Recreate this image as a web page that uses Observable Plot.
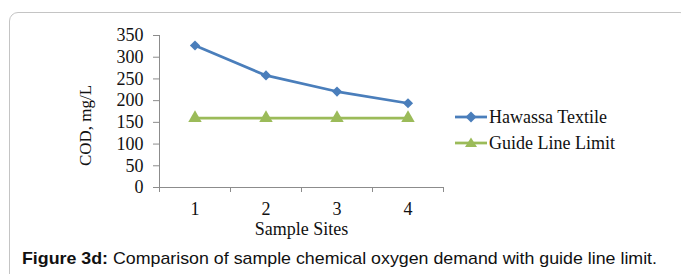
<!DOCTYPE html>
<html><head><meta charset="utf-8">
<script src="https://cdn.jsdelivr.net/npm/d3@7"></script>
<script src="https://cdn.jsdelivr.net/npm/@observablehq/plot@0.6"></script>
<style>
html,body{margin:0;padding:0;background:#fff;}
#wrap{position:relative;width:681px;height:274px;overflow:hidden;background:#fff;}
#frame{position:absolute;left:9px;top:12px;width:680px;height:320px;border:1px solid #c4c4c4;border-radius:9px;box-sizing:border-box;}
#chart{position:absolute;left:0;top:0;}
#legend{position:absolute;left:455px;top:104px;font-family:"Liberation Serif",serif;font-size:18px;color:#111;}
.item{display:flex;align-items:center;height:26px;white-space:nowrap;}
.item svg{display:block;margin-right:1px;}
#caption{position:absolute;left:22px;top:249px;font-family:"Liberation Sans",Arial,sans-serif;font-size:17px;line-height:19px;white-space:nowrap;transform-origin:left top;color:#111;}
#caption b{font-weight:bold;}
</style>
</head><body>
<div id="wrap">
  <div id="frame"></div>
  <div id="chart"></div>
  <div id="legend"></div>
  <div id="caption"><b>Figure 3d:</b> Comparison of sample chemical oxygen demand with guide line limit.</div>
</div>
<script>
// ---- data ----
const sites = [1, 2, 3, 4];
const hawassaTextile = [327, 258, 221, 194];
const guideLineLimit = [160, 160, 160, 160];
const seriesNames = ["Hawassa Textile", "Guide Line Limit"];
const seriesColors = ["#4A7EBB", "#9BBB59"];
const yTicks = [0, 50, 100, 150, 200, 250, 300, 350];
const xCategoryBounds = [0.5, 1.5, 2.5, 3.5, 4.5];
const yTitle = "COD, mg/L";
const xTitle = "Sample Sites";

const rows = [];
sites.forEach((s, i) => {
  rows.push({site: s, value: hawassaTextile[i], series: seriesNames[0]});
  rows.push({site: s, value: guideLineLimit[i], series: seriesNames[1]});
});
const axisGray = "#8c8c8c";

const chart = Plot.plot({
  width: 681,
  height: 240,
  marginTop: 35,
  marginBottom: 53,
  marginLeft: 159,
  marginRight: 238,
  style: {fontFamily: "'Liberation Serif', serif", fontSize: "18px", color: "#111", background: "transparent", overflow: "visible"},
  x: {domain: [xCategoryBounds[0], xCategoryBounds[xCategoryBounds.length - 1]]},
  y: {domain: [yTicks[0], yTicks[yTicks.length - 1]]},
  color: {domain: seriesNames, range: seriesColors},
  marks: [
    Plot.ruleX([xCategoryBounds[0]], {y1: yTicks[0], y2: yTicks[yTicks.length - 1], stroke: axisGray}),
    Plot.ruleY([0], {x1: xCategoryBounds[0], x2: xCategoryBounds[xCategoryBounds.length - 1], stroke: axisGray}),
    Plot.axisY({ticks: yTicks, tickSize: 6, tickPadding: 10, stroke: axisGray, fill: "#111", label: null}),
    Plot.text([yTitle], {frameAnchor: "left", textAnchor: "middle", lineAnchor: "middle", dx: -74, dy: 14, rotate: -90, fontSize: 17, fill: "#111"}),
    Plot.axisX({ticks: xCategoryBounds, tickSize: 5, tickFormat: () => "", stroke: axisGray, label: null}),
    Plot.axisX({ticks: sites, tickSize: 0, tickPadding: 15, tickFormat: "d", fill: "#111",
      label: xTitle, labelAnchor: "center", labelArrow: "none", labelOffset: 47}),
    Plot.line(rows, {x: "site", y: "value", z: "series", stroke: "series", strokeWidth: 2.75}),
    Plot.dot(rows.filter(d => d.series === seriesNames[0]), {x: "site", y: "value", symbol: "diamond2", r: 4.6, fill: "series", stroke: "none"}),
    Plot.dot(rows.filter(d => d.series === seriesNames[1]), {x: "site", y: "value", symbol: "triangle", r: 5, fill: "series", stroke: "none"})
  ]
});
document.getElementById("chart").appendChild(chart);

// ---- legend ----
const legend = document.getElementById("legend");
const ns = "http://www.w3.org/2000/svg";
seriesNames.forEach((name, i) => {
  const item = document.createElement("div");
  item.className = "item";
  const svg = document.createElementNS(ns, "svg");
  svg.setAttribute("width", 33); svg.setAttribute("height", 14);
  const line = document.createElementNS(ns, "line");
  line.setAttribute("x1", 0); line.setAttribute("x2", 32); line.setAttribute("y1", 7); line.setAttribute("y2", 7);
  line.setAttribute("stroke", seriesColors[i]); line.setAttribute("stroke-width", 2.75);
  svg.appendChild(line);
  const m = document.createElementNS(ns, "path");
  m.setAttribute("d", i === 0 ? "M16,1.5 L21.5,7 L16,12.5 L10.5,7Z" : "M16,1.5 L22,11 L10,11Z");
  m.setAttribute("fill", seriesColors[i]);
  svg.appendChild(m);
  item.appendChild(svg);
  const t = document.createElement("span");
  t.textContent = name;
  item.appendChild(t);
  legend.appendChild(item);
});

// ---- caption fit ----
const cap = document.getElementById("caption");
const w = cap.getBoundingClientRect().width;
cap.style.transform = `scaleX(${635 / w})`;
</script>
</body></html>
